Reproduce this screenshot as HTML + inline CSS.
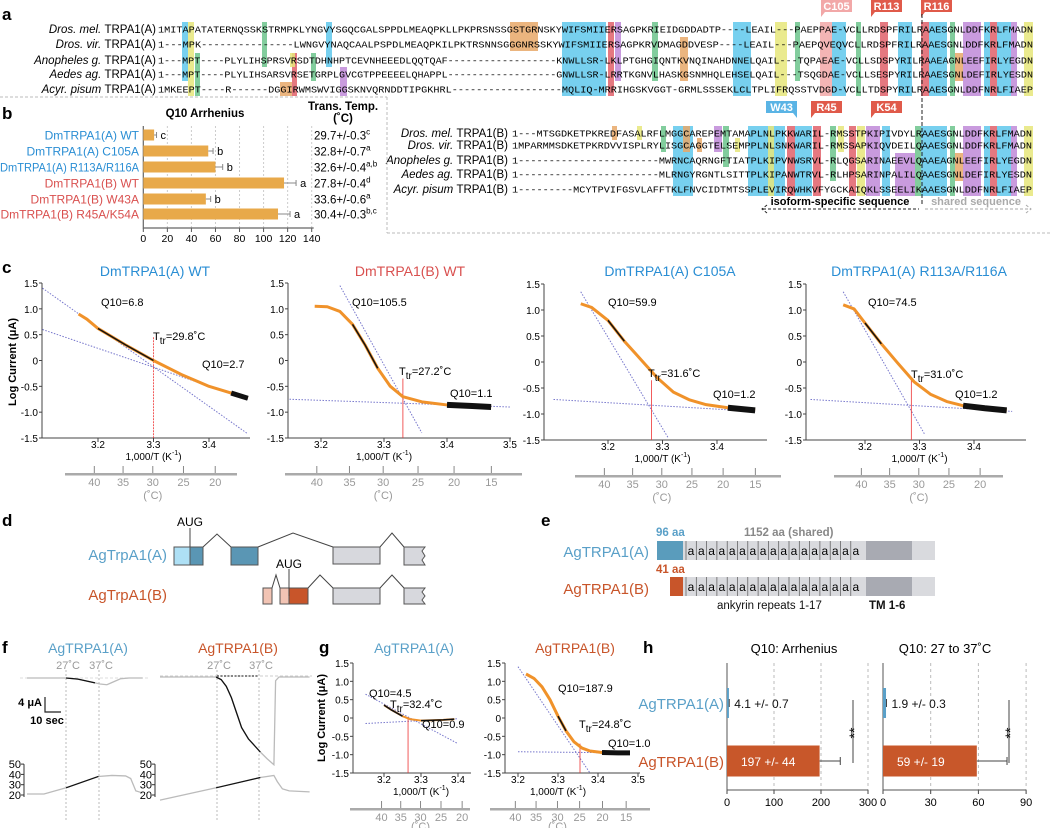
<!DOCTYPE html>
<html><head><meta charset="utf-8"><style>
html,body{margin:0;padding:0;background:#fff;}
svg{display:block;font-family:"Liberation Sans",sans-serif;}
.mono{font-family:"Liberation Mono",monospace;}
</style></head><body>
<svg id="fig" width="1050" height="828" viewBox="0 0 1050 828" xmlns="http://www.w3.org/2000/svg">
<g id="pa"></g>
<g id="pb"></g>
<g id="pc"></g>
<g id="pd"></g>
<g id="pe"></g>
<g id="pf"></g>
<g id="pg"></g>
<g id="ph"></g>
<g font-weight="bold" font-size="17">
<text x="2" y="20">a</text>
<text x="2" y="119">b</text>
<text x="2" y="273">c</text>
<text x="2" y="526">d</text>
<text x="541" y="526">e</text>
<text x="2" y="653">f</text>
<text x="319" y="653">g</text>
<text x="643" y="653">h</text>
</g>
<g stroke="#bbb" stroke-dasharray="3,2" fill="none">
<line x1="0" y1="97" x2="387" y2="97"/>
<line x1="387" y1="97" x2="387" y2="233"/>
<line x1="387" y1="233" x2="1050" y2="233"/>
</g>
</svg>
<script>
const NS="http://www.w3.org/2000/svg";
function el(tag,attrs,parent){const e=document.createElementNS(NS,tag);for(const k in attrs)e.setAttribute(k,attrs[k]);parent.appendChild(e);return e;}
function tx(x,y,s,attrs,parent){const e=el('text',Object.assign({x:x,y:y},attrs||{}),parent);e.textContent=s;return e;}
const pa=document.getElementById('pa'),pb=document.getElementById('pb'),pc=document.getElementById('pc'),pd=document.getElementById('pd'),pe=document.getElementById('pe'),pf=document.getElementById('pf'),pg=document.getElementById('pg'),ph=document.getElementById('ph');

/* ---------- DATA ---------- */
const aNames=["Dros. mel.","Dros. vir.","Anopheles g.","Aedes ag.","Acyr. pisum"];
const aSeqA=["1MITAPATATERNQSSKSTRMPKLYNGVYSGQCGALSPPDLMEAQPKLLPKPRSNSSGSTGRNSKYWIFSMIIERSAGPKRIEIDGDDADTP----LEAIL---PAEPPAE-VCLLRDSPFRILRAAESGNLDDFKRLFMADN",
"1---MPK---------------LWNGVYNAQCAALPSPDLMEAQPKILPKTRSNNSGGGNRSSKYWIFSMIIERSAGPKRVDMAGDDVESP----LEAIL---PAEPQVEQVCLLRDSPFRILRAAESGNLDDFKRLFMADN",
"1---MPT----PLYLIHSPRSVRSDTDHNHPTCEVNHEEEDLQQTQAF------------------KNWLLSR-LKLPTGHGIQNTKVNQINAHDNNELQAIL---TQPAEAE-VCLLSDSPYRILRAAEAGNLEEFIRLYEGDN",
"1---MPT----PLYLIHSARSVRSETGRPLGVCGTPPEEEELQHAPPL------------------GNWLLSR-LRRTKGNVLHASKGSNMHQLEHSELQAIL---TSQGDAE-VCLLSESPYRILRAAESGNLDEFIRLYESDN",
"1MKEEPT----R------DGGIRWMSWVIGGSKNVQRNDDTIPGKHRL------------------MQLIQ-MRRIHGSKVGGT-GRMLSSSEKLCLTPLIFRQSSTVDGD-VCLLTDSPYRILRAAESGNLDDFNRLFIAEP"];
const aSeqB=["1---MTSGDKETPKREDFASALRFLMGGCAREPEMTAMAPLNLPKKWARIL-RMSSTPKIPIVDYLRAAESGNLDDFKRLFMADN",
"1MPARMMSDKETPKRDVVISPLRYLISGCAGGTELSEMPPLNLSNKWARIL-RMSSAPKIQVDEILQAAESGNLDDFKRLFMADN",
"1-----------------------MWRNCAQRNGFTIATPLKIPVNWSRVL-RLQGSARINAEEVLQAAEAGNLEEFIRLYEGDN",
"1-----------------------MLRNGYRGNTLSITTPLKIPANWTRVL-RLHPSARINPALILQAAESGNLDEFIRLYESDN",
"1---------MCYTPVIFGSVLAFFTKLFNVCIDTMTSSPLEVIRQWHKVFYGCKAIQKLSSEELIKAAESGNLDDFNRLFIAEP"];

const bCategories=["DmTRPA1(A) WT","DmTRPA1(A) C105A","DmTRPA1(A) R113A/R116A","DmTRPA1(B) WT","DmTRPA1(B) W43A","DmTRPA1(B) R45A/K54A"];
const bValues=[9,54,60,117,52,112];
const bErrors=[2,4,6,10,4,10];
const bLetters=["c","b","b","a","b","a"];
const bTemps=["29.7+/-0.3","32.8+/-0.7","32.6+/-0.4","27.8+/-0.4","33.6+/-0.6","30.4+/-0.3"];
const bTempSup=["c","a","a,b","d","a","b,c"];
const bTicks=[0,20,40,60,80,100,120,140];

const c1X=[3.165,3.18,3.2,3.25,3.3,3.35,3.4,3.44,3.47];
const c1Y=[0.9,0.8,0.62,0.3,0.0,-0.27,-0.5,-0.63,-0.73];
const c2X=[3.19,3.21,3.23,3.25,3.27,3.29,3.31,3.33,3.36,3.4,3.44,3.47];
const c2Y=[1.05,1.04,0.95,0.7,0.3,-0.15,-0.5,-0.7,-0.8,-0.86,-0.88,-0.9];
const c3X=[3.15,3.17,3.2,3.23,3.26,3.29,3.32,3.35,3.38,3.42,3.47];
const c3Y=[1.12,1.05,0.8,0.4,0.05,-0.3,-0.58,-0.73,-0.82,-0.88,-0.93];
const c4X=[3.16,3.18,3.2,3.23,3.26,3.29,3.32,3.35,3.38,3.42,3.46];
const c4Y=[1.1,1.02,0.75,0.35,-0.02,-0.38,-0.62,-0.76,-0.84,-0.89,-0.93];
const gAX=[3.2,3.22,3.25,3.27,3.3,3.33,3.36,3.39];
const gAY=[0.35,0.22,0.05,-0.03,-0.07,-0.06,-0.05,-0.03];
const gBX=[3.22,3.24,3.26,3.28,3.3,3.32,3.34,3.36,3.38,3.41,3.45,3.48];
const gBY=[1.2,1.08,0.85,0.5,0.05,-0.35,-0.65,-0.82,-0.9,-0.94,-0.95,-0.95];
const cTicksY=[1.5,1.0,0.5,0,-0.5,-1.0,-1.5];

const fATime=[0,10,23,30,35,40,43,47,50,55,60,68];
const fACurrent=[0,0,0,-0.3,-0.8,-1.3,-1.6,-1.8,-1.2,-0.2,0,0];
const fATempTime=[0,10,23,42,50,58,61,64,68];
const fATemp=[21,21,27,38,39,38.5,36,24,22];
const fBTime=[0,33,36,39,42,45,48,52,56,59,63,66,67,68,70,88];
const fBCurrent=[0,0,-0.7,-2.5,-5.5,-9.5,-13.5,-16.5,-18.5,-20,-21.8,-23,-23.4,-1,0,0];
const fBTempTime=[0,33,59,67,69,72,76,88];
const fBTemp=[15,27,37,39,33,26,24,23];

const hCategories=["AgTRPA1(A)","AgTRPA1(B)"];
const hArrVals=[4.1,197];
const hArrErr=[0.7,44];
const hArrTicks=[0,100,200,300];
const hRangeVals=[1.9,59];
const hRangeErr=[0.3,19];
const hRangeTicks=[0,30,60,90];

/* ---------- PANEL A ---------- */
const CY="#5fc8ec",YE="#e6e67a",GR="#6cc48c",OR="#e8a868",RD="#e0606a",PU="#c08ad8",PK="#f2a8a8";
const colsA=[[182,6,CY,0,3],[188,6,YE,0,4],[195,5,GR,2,4],[262,5,GR,0,2],[292,5,RD,2,4],[280,12,OR,4,4],[311,5,GR,2,3],[326,6,CY,0,2],[290,5,YE,2,2],[340,7,PU,3,4],[510,28,OR,0,1],[562,44,CY,0,4],[608,6,RD,0,4],[615,6,PU,0,3],[652,6,GR,0,3],[680,8,OR,1,3],[733,18,CY,0,4],[775,12,YE,0,4],[795,5,GR,0,3],[820,12,PK,0,4],[832,14,CY,0,4],[856,5,GR,0,4],[880,8,RD,0,4],[898,14,CY,0,4],[921,8,RD,0,4],[929,18,CY,0,4],[950,5,GR,0,4],[955,8,OR,2,3],[963,18,PU,0,4],[984,6,CY,0,4],[990,7,RD,0,4],[997,14,CY,0,4],[1011,6,PU,0,4],[1024,9,YE,0,4]];
const colsB=[[612,5,OR,0,0],[637,5,YE,0,0],[661,5,GR,0,1],[673,20,CY,0,4],[683,7,OR,0,1],[697,5,OR,1,1],[714,8,PU,0,1],[723,6,GR,0,2],[735,5,YE,1,1],[748,30,CY,0,4],[768,6,YE,0,4],[778,7,CY,0,4],[787,8,RD,0,4],[795,17,CY,0,4],[813,8,RD,0,4],[830,6,GR,0,3],[838,6,YE,0,1],[849,7,RD,0,4],[857,8,YE,0,4],[866,14,PU,0,4],[882,8,CY,0,4],[895,20,PU,2,4],[915,6,GR,0,4],[921,8,CY,0,4],[929,18,CY,0,4],[950,5,GR,0,4],[955,8,OR,2,3],[963,18,PU,0,4],[984,6,CY,0,4],[990,7,RD,0,4],[997,14,CY,0,4],[1011,6,PU,0,4],[1024,9,YE,0,4]];
const rowYA=[29,44,60,74,89],rowYB=[133,145,160,174,189];
colsA.forEach(c=>{const r=el('rect',{x:c[0],y:rowYA[c[3]]-7,width:c[1],height:rowYA[c[4]]-rowYA[c[3]]+14,fill:c[2],opacity:0.85},pa);

});
colsB.forEach(c=>{const r=el('rect',{x:c[0],y:rowYB[c[3]]-7,width:c[1],height:rowYB[c[4]]-rowYB[c[3]]+14,fill:c[2],opacity:0.85},pa);

});
aNames.forEach((n,i)=>{
 const t=tx(156,rowYA[i]+4,'',{'text-anchor':'end','font-size':'11.5'},pa);
 
 
 const s1=el('tspan',{'font-style':'italic'},t);s1.textContent=n+' ';
 const s2=el('tspan',{},t);s2.textContent='TRPA1(A)';
 const q=tx(158,rowYA[i]+3.5,aSeqA[i],{'font-size':'9',textLength:875,lengthAdjust:'spacingAndGlyphs',class:'mono'},pa);
 
 
 const t2=tx(508,rowYB[i]+4,'',{'text-anchor':'end','font-size':'11.5'},pa);
 
 
 const u1=el('tspan',{'font-style':'italic'},t2);u1.textContent=n+' ';
 const u2=el('tspan',{},t2);u2.textContent='TRPA1(B)';
 const q2=tx(512,rowYB[i]+3.5,aSeqB[i],{'font-size':'9',textLength:520,lengthAdjust:'spacingAndGlyphs',class:'mono'},pa);
 
 
});
const tags=[["C105",821,PK,1],["R113",871,"#e05a4a",1],["R116",921,"#e05a4a",1],["W43",766,"#5ab4e5",0],["R45",811,"#e05a4a",1],["K54",871,"#e05a4a",1]];
tags.forEach((t,i)=>{const y0=i<3?0:101;
 const r=el('path',{d:t[3]?`M${t[1]} ${y0} h31 v12 h-27 l-4 5 z`:`M${t[1]} ${y0} h31 v17 l-4 -5 h-27 z`,fill:t[2]},pa);
 
 
 const l=tx(t[1]+15.5,y0+10,t[0],{'text-anchor':'middle','font-size':'11',fill:'#fff','font-weight':'bold'},pa);
 
 });
const dl=el('line',{x1:922,y1:14,x2:922,y2:205,stroke:'#222','stroke-dasharray':'4,2'},pa);


const iso=tx(840,205,'isoform-specific sequence',{'text-anchor':'middle','font-size':'11','font-weight':'bold'},pa);


const sh=tx(976,205,'shared sequence',{'text-anchor':'middle','font-size':'11','font-weight':'bold',fill:'#aaa'},pa);


const ar1=el('path',{d:'M763 209 H919 M767 205 L762 209 L767 213',stroke:'#222',fill:'none','stroke-dasharray':'3,2'},pa);


const ar2=el('path',{d:'M925 209 H1031 M1026 205 L1031 209 L1026 213',stroke:'#aaa',fill:'none','stroke-dasharray':'3,2'},pa);



/* ---------- PANEL B ---------- */
const bx=v=>143.3+v*(311.7-143.3)/140;
const bRowY=[135,151,167,183,199,214];
bTicks.forEach(t=>{
 if(t>0){const g=el('line',{x1:bx(t),y1:126,x2:bx(t),y2:228,stroke:'#ccc','stroke-dasharray':'2,2'},pb);
 
 }
 const k=el('line',{x1:bx(t),y1:228,x2:bx(t),y2:232,stroke:'#555'},pb);
 
 
 const l=tx(bx(t),242,String(t),{'text-anchor':'middle','font-size':'10.5'},pb);
 
 });
const bax=el('path',{d:`M143.3 126 V228 H${bx(140)+2}`,stroke:'#666',fill:'none','stroke-width':1.2},pb);


bCategories.forEach((c,i)=>{const y=bRowY[i];
 const r=el('rect',{x:143.3,y:y-5.5,width:bx(bValues[i])-143.3,height:11,fill:'#e8a94a'},pb);
 
 
 const e=el('path',{d:`M${bx(bValues[i])} ${y} H${bx(bValues[i]+bErrors[i])} M${bx(bValues[i]+bErrors[i])} ${y-3} V${y+3}`,stroke:'#888'},pb);
 
 
 const l=tx(139,y+4.5,c,{'text-anchor':'end','font-size':'12',fill:i<3?'#2a8ed4':'#d9504f'},pb);
 
 
 if(c.length>20){l.setAttribute('textLength',i<3?139:134);l.setAttribute('lengthAdjust','spacingAndGlyphs');}
 const lt=tx(bx(bValues[i]+bErrors[i])+4,y+4,bLetters[i],{'font-size':'11'},pb);
 
 
 const tt=tx(314,y+4.5,bTemps[i],{'font-size':'11.5'},pb);
 
 
 const sp=el('tspan',{'font-size':'8',dy:'-5'},tt);sp.textContent=bTempSup[i];});
const bt=tx(205,117,'Q10 Arrhenius',{'text-anchor':'middle','font-size':'11.5','font-weight':'bold'},pb);


const bt2=tx(343,110,'Trans. Temp.',{'text-anchor':'middle','font-size':'11.5','font-weight':'bold'},pb);


const bt3=tx(343,122,'(˚C)',{'text-anchor':'middle','font-size':'11.5','font-weight':'bold'},pb);



/* ---------- ARRHENIUS PLOT HELPER ---------- */
function arrPlot(g,c){
 const X=v=>c.x32+(v-3.2)*c.px01*100, yz=(c.yTop+c.yBot)/2, Y=v=>yz-v*(c.yBot-c.yTop)/3;
 cTicksY.forEach(t=>{const k=el('line',{x1:c.ax-3,y1:Y(t),x2:c.ax,y2:Y(t),stroke:'#444'},g);
  
  
  const l=tx(c.ax-4,Y(t)+4,t===0?'0':t.toFixed(1),{'text-anchor':'end','font-size':c.fs},g);
  
  });
 const a=el('path',{d:`M${c.ax} ${c.yTop} V${c.yBot} H${c.axEnd}`,stroke:'#444',fill:'none'},g);
 
 
 c.xt.forEach(t=>{const k=el('line',{x1:X(t),y1:c.yBot,x2:X(t),y2:c.yBot+4,stroke:'#444'},g);
  
  
  const l=tx(X(t),c.yBot+c.tly,t.toFixed(1),{'text-anchor':'middle','font-size':c.fs},g);
  
  });
 const xl=tx(X(3.3),c.yBot+c.tly+12,'1,000/T (K',{'text-anchor':'middle','font-size':c.fs},g);
 
 
 const xs=el('tspan',{'font-size':'7',dy:'-5'},xl);xs.textContent='-1';
 const xs2=el('tspan',{dy:'5'},xl);xs2.textContent=')';
 const cy=c.yBot+c.tly+25;
 const XC=t=>X(1000/(t+273.15));
 const cb=el('rect',{x:c.cb[0],y:cy,width:c.cb[1]-c.cb[0],height:2.5,fill:'#aaa'},g);
 
 
 c.ct.forEach(t=>{const k=el('line',{x1:XC(t),y1:cy-7,x2:XC(t),y2:cy,stroke:'#888'},g);
  
  
  const l=tx(XC(t),cy+13,String(t),{'text-anchor':'middle','font-size':c.fs+1,fill:'#999'},g);
  
  });
 const cu=tx(XC(30),cy+c.cuy,'(˚C)',{'text-anchor':'middle','font-size':c.fs+1,fill:'#999'},g);
 
 
 c.lines.forEach(L=>{const l=el('line',{x1:X(L[0]),y1:Y(L[1]),x2:X(L[2]),y2:Y(L[3]),stroke:'#7777cc','stroke-dasharray':'1.5,1.5','stroke-width':1},g);
  
  });
 const rl=el('line',{x1:X(c.ttr),y1:Y(c.ttrTop),x2:X(c.ttr),y2:c.yBot,stroke:'#e33','stroke-dasharray':c.rdash||'none','stroke-width':0.8},g);
 
 
 const pts=c.xs.map((v,i)=>X(v)+','+Y(c.ys[i])).join(' ');
 const cv=el('polyline',{points:pts,fill:'none',stroke:'#f0922a','stroke-width':c.sw||3,'stroke-linejoin':'round'},g);
 
 
 c.black.forEach(b=>{const pp=[];for(let i=0;i<c.xs.length;i++){if(c.xs[i]>=b[0]-1e-9&&c.xs[i]<=b[1]+1e-9)pp.push(X(c.xs[i])+','+Y(c.ys[i]));}
  const bl=el('polyline',{points:pp.join(' '),fill:'none',stroke:'#111','stroke-width':b[2]},g);
  
  });
 c.labels.forEach(L=>{const t=tx(L[0],L[1],'',{'font-size':c.fs+1},g);
  
  
  if(L[2].startsWith('T')){const a1=el('tspan',{},t);a1.textContent='T';const a2=el('tspan',{dy:'4','font-size':c.fs},t);a2.textContent='tr';const a3=el('tspan',{dy:'-4'},t);a3.textContent=L[2].slice(3);}
  else t.textContent=L[2];});
 const tt=tx(c.title[0],c.title[1],c.title[2],{'text-anchor':'middle','font-size':'14',fill:c.title[3]},g);
 
 
}
const BL='#2a8ed4',RE='#d9504f',AgA='#5aa0c8',AgB='#c8552a';
arrPlot(pc,{ax:42,x32:98,px01:5.55,yTop:283,yBot:438,axEnd:250,xt:[3.2,3.3,3.4],tly:10,fs:10,cb:[65,237],ct:[40,35,30,25,20],cuy:26,
 lines:[[3.1,1.4,3.47,-1.42],[3.1,0.6,3.47,-0.75]],ttr:3.3,ttrTop:0.45,rdash:'2,1',xs:c1X,ys:c1Y,black:[[3.2,3.3,1.5],[3.44,3.47,5]],
 labels:[[101,306,'Q10=6.8'],[153,340,'Ttr=29.8˚C'],[202,368,'Q10=2.7']],title:[155,276,'DmTRPA1(A) WT',BL]});
arrPlot(pc,{ax:288,x32:321,px01:6.3,yTop:283,yBot:438,axEnd:511,xt:[3.2,3.3,3.4,3.5],tly:10,fs:10,cb:[285,522],ct:[40,35,30,25,20,15],cuy:26,
 lines:[[3.23,1.45,3.36,-1.4],[3.15,-0.75,3.5,-0.9]],ttr:3.33,ttrTop:-0.35,xs:c2X,ys:c2Y,black:[[3.25,3.29,1.5],[3.4,3.47,6]],
 labels:[[352,306,'Q10=105.5'],[399,375,'Ttr=27.2˚C'],[450,397,'Q10=1.1']],title:[410,276,'DmTRPA1(B) WT',RE]});
arrPlot(pc,{ax:544,x32:608,px01:5.45,yTop:284,yBot:440,axEnd:767,xt:[3.2,3.3,3.4],tly:10,fs:10,cb:[575,781],ct:[40,35,30,25,20,15],cuy:26,
 lines:[[3.15,1.35,3.31,-1.45],[3.1,-0.72,3.47,-0.95]],ttr:3.28,ttrTop:-0.35,xs:c3X,ys:c3Y,black:[[3.2,3.23,1.5],[3.39,3.47,6]],
 labels:[[608,306,'Q10=59.9'],[648,377,'Ttr=31.6˚C'],[713,398,'Q10=1.2']],title:[670,276,'DmTRPA1(A) C105A',BL]});
arrPlot(pc,{ax:806,x32:865,px01:5.45,yTop:284,yBot:440,axEnd:1026,xt:[3.2,3.3,3.4],tly:10,fs:10,cb:[834,1003],ct:[40,35,30,25,20],cuy:26,
 lines:[[3.16,1.35,3.31,-1.4],[3.1,-0.72,3.47,-0.95]],ttr:3.285,ttrTop:-0.35,xs:c4X,ys:c4Y,black:[[3.2,3.23,1.5],[3.38,3.46,6]],
 labels:[[868,306,'Q10=74.5'],[911,378,'Ttr=31.0˚C'],[955,398,'Q10=1.2']],title:[919,276,'DmTRPA1(A) R113A/R116A',BL]});
const ylc=tx(0,0,'Log Current (μA)',{'font-size':'11','font-weight':'bold',transform:'translate(16,362) rotate(-90)','text-anchor':'middle'},pc);



arrPlot(pg,{ax:353,x32:384,px01:3.7,yTop:663,yBot:773,axEnd:471,xt:[3.2,3.3,3.4],tly:10,fs:10,cb:[350,470],ct:[40,35,30,25,20],cuy:22,
 lines:[[3.15,0.65,3.4,-0.7],[3.15,-0.15,3.4,-0.02]],ttr:3.265,ttrTop:0.02,xs:gAX,ys:gAY,black:[[3.2,3.25,1.5],[3.28,3.39,1.5]],sw:2,
 labels:[[369,697,'Q10=4.5'],[390,708,'Ttr=32.4˚C'],[422,728,'Q10=0.9']],title:[414,653,'AgTRPA1(A)',AgA]});
arrPlot(pg,{ax:505,x32:518,px01:4.0,yTop:663,yBot:773,axEnd:640,xt:[3.2,3.3,3.4,3.5],tly:10,fs:10,cb:[490,650],ct:[40,35,30,25,20,15],cuy:22,
 lines:[[3.2,1.4,3.38,-1.5],[3.2,-0.92,3.45,-0.95]],ttr:3.355,ttrTop:-0.7,xs:gBX,ys:gBY,black:[[3.3,3.32,1.5],[3.41,3.48,5]],
 labels:[[558,692,'Q10=187.9'],[579,728,'Ttr=24.8˚C'],[608,747,'Q10=1.0']],title:[575,653,'AgTRPA1(B)',AgB]});
const ylg=tx(0,0,'Log Current (μA)',{'font-size':'11','font-weight':'bold',transform:'translate(325,718) rotate(-90)','text-anchor':'middle'},pg);



/* ---------- PANEL D ---------- */
function box(g,x,y,w,h,fill,name){const r=el('rect',{x:x,y:y,width:w,height:h,fill:fill,stroke:'#555','stroke-width':1},g);
 
 return r;}
const dl1=tx(167,560,'AgTrpA1(A)',{'text-anchor':'end','font-size':'15',fill:AgA},pd);


box(pd,174,547,16,18,'#aee0f5','exon-a1-utr');box(pd,190,547,13,18,'#5a96b4','exon-a1-coding');
box(pd,231,547,27,18,'#5a96b4','exon-a2');box(pd,333,547,47,17,'#d7d8dd','exon-shared-1');
const fa=el('path',{d:'M404 547 H425 l-3 4 l3 5 l-3 4 l3 5 H404 Z',fill:'#d7d8dd',stroke:'#555'},pd);


const ia=el('path',{d:'M203 547 L217 534 L231 547 M258 547 L293 533 L333 547 M380 547 L392 533 L404 547 M190 528 V547',stroke:'#444',fill:'none'},pd);


const aug1=tx(190,526,'AUG',{'text-anchor':'middle','font-size':'12'},pd);


const dl2=tx(167,600,'AgTrpA1(B)',{'text-anchor':'end','font-size':'15',fill:AgB},pd);


box(pd,263,588,9,16,'#f2c4b4','exon-b0');box(pd,280,588,9,16,'#f2c4b4','exon-b1-utr');box(pd,289,588,19,16,'#c8552a','exon-b1-coding');
box(pd,333,588,47,16,'#d7d8dd','exon-shared-1b');
const fb=el('path',{d:'M404 588 H425 l-3 4 l3 4 l-3 4 l3 4 H404 Z',fill:'#d7d8dd',stroke:'#555'},pd);


const ib=el('path',{d:'M272 588 L276 575 L280 588 M308 588 L320 575 L333 588 M380 588 L392 575 L404 588 M289 569 V596',stroke:'#444',fill:'none'},pd);


const aug2=tx(289,568,'AUG',{'text-anchor':'middle','font-size':'12'},pd);



/* ---------- PANEL E ---------- */
function protein(y,color,x0){
 box(pe,683,y,252,19,'#d9dade','protein-body').setAttribute('stroke','none');
 box(pe,866,y,46,19,'#a8aab2','tm-domain').setAttribute('stroke','none');
 box(pe,x0,y,683-x0,19,color,'isoform-specific-domain').setAttribute('stroke','none');
 for(let i=0;i<17;i++){const l=el('line',{x1:686+i*10.3,y1:y,x2:686+i*10.3,y2:y+19,stroke:'#555','stroke-width':0.7},pe);
  
  
  const a=tx(691+i*10.3,y+14,'a',{'text-anchor':'middle','font-size':'12'},pe);
  
  }
}
protein(541,'#5a9cbc',657);protein(577,'#c8552a',670);
[[656,536,'96 aa',AgA,'start'],[744,536,'1152 aa (shared)','#888','start'],[656,573,'41 aa',AgB,'start'],[649,557,'AgTRPA1(A)',AgA,'end'],[649,594,'AgTRPA1(B)',AgB,'end'],[717,609,'ankyrin repeats 1-17','#111','start'],[869,609,'TM 1-6','#111','start']].forEach(t=>{
 const e=tx(t[0],t[1],t[2],{'font-size':t[2].startsWith('Ag')?'15':'11.5',fill:t[3],'text-anchor':t[4],'font-weight':t[2].length<20&&!t[2].startsWith('Ag')?'bold':'normal'},pe);
 
 });

/* ---------- PANEL F ---------- */
function trace(x0,yBase,tArr,iArr,blk,name){
 const X=t=>x0+t*1.7,Y=v=>yBase-v*3.75;
 const p=el('polyline',{points:tArr.map((t,i)=>X(t)+','+Y(iArr[i])).join(' '),fill:'none',stroke:'#bbb','stroke-width':1.3},pf);
 
 
 const pp=[];tArr.forEach((t,i)=>{if(t>=blk[0]&&t<=blk[1])pp.push(X(t)+','+Y(iArr[i]));});
 const b=el('polyline',{points:pp.join(' '),fill:'none',stroke:'#111','stroke-width':1.3},pf);
 
 }
function ttrace(x0,axX,tArr,TArr,blk,name){
 const X=t=>x0+t*1.7,Y=v=>795-(v-20)*1.03;
 const p=el('polyline',{points:tArr.map((t,i)=>X(t)+','+Y(TArr[i])).join(' '),fill:'none',stroke:'#bbb','stroke-width':1.3},pf);
 
 
 const pp=[];tArr.forEach((t,i)=>{if(t>=blk[0]&&t<=blk[1])pp.push(X(t)+','+Y(TArr[i]));});
 const b=el('polyline',{points:pp.join(' '),fill:'none',stroke:'#111','stroke-width':1.2},pf);
 
 
 const ax=el('line',{x1:axX,y1:Y(50),x2:axX,y2:Y(18),stroke:'#333'},pf);
 
 
 [50,40,30,20].forEach(v=>{const k=el('line',{x1:axX-3,y1:Y(v),x2:axX,y2:Y(v),stroke:'#333'},pf);
  
  
  const l=tx(axX-3,Y(v)+4,String(v),{'text-anchor':'end','font-size':'11'},pf);
  
  });}
[[66,99,88,'AgTRPA1(A)',AgA],[217,259,238,'AgTRPA1(B)',AgB]].forEach((p,j)=>{
 [p[0],p[1]].forEach((x,i)=>{const l=el('line',{x1:x,y1:670,x2:x,y2:820,stroke:'#bbb','stroke-dasharray':'2,2'},pf);
  
  
  const t=tx(x+2,669,i?'37˚C':'27˚C',{'text-anchor':'middle','font-size':'11',fill:'#999'},pf);
  
  });
 const t=tx(p[2],653,p[3],{'text-anchor':'middle','font-size':'14',fill:p[4]},pf);
 
 });
const bl1=el('line',{x1:20,y1:678,x2:150,y2:678,stroke:'#ddd','stroke-dasharray':'3,2'},pf);


const bl2=el('line',{x1:160,y1:676,x2:312,y2:676,stroke:'#ccc','stroke-dasharray':'3,2'},pf);


const bl3=el('line',{x1:217,y1:676,x2:259,y2:676,stroke:'#111','stroke-dasharray':'2,1.5'},pf);


trace(27,678,fATime,fACurrent,[23,42],'current-trace-a');
trace(160,677,fBTime,fBCurrent,[33,59],'current-trace-b');
ttrace(27,24,fATempTime,fATemp,[23,42],'temp-trace-a');
ttrace(160,155,fBTempTime,fBTemp,[33,59],'temp-trace-b');
const sb=el('path',{d:'M45 697 V712 H61',stroke:'#222',fill:'none','stroke-width':1.2},pf);


const sb1=tx(42,706,'4 μA',{'text-anchor':'end','font-size':'11','font-weight':'bold'},pf);


const sb2=tx(47,724,'10 sec',{'text-anchor':'middle','font-size':'11','font-weight':'bold'},pf);



/* ---------- PANEL H ---------- */
function hChart(x0,scale,vals,errs,ticks,brX,title,tcx,labelsLeft,txts){
 const X=v=>x0+v*scale, rowY=[703,761];
 ticks.forEach(t=>{if(t>0){const g=el('line',{x1:X(t),y1:663,x2:X(t),y2:790,stroke:'#bbb','stroke-dasharray':'3,3'},ph);
  
  }
  const l=tx(X(t),806,String(t),{'text-anchor':'middle','font-size':'11'},ph);
  
  
  const k=el('line',{x1:X(t),y1:790,x2:X(t),y2:794,stroke:'#444'},ph);
  
  });
 const ax=el('path',{d:`M${x0} 663 V790 H${X(ticks[ticks.length-1])}`,stroke:'#555',fill:'none'},ph);
 
 
 vals.forEach((v,i)=>{const h=i?31:30;
  const r=el('rect',{x:x0,y:rowY[i]-h/2,width:Math.max(X(v)-x0,1.5),height:h,fill:i?'#c8572a':'#5aa0c8'},ph);
  
  
  const e=el('path',{d:`M${X(v)} ${rowY[i]} H${X(v+errs[i])} M${X(v+errs[i])} ${rowY[i]-4} V${rowY[i]+4}`,stroke:'#444'},ph);
  
  
  const t=tx(i?x0+14:X(v+errs[i])+5,rowY[i]+5,txts[i],{'font-size':'12',fill:i?'#fff':'#111'},ph);
  
  
  if(labelsLeft){const c=tx(x0-3,rowY[i]+6,hCategories[i],{'text-anchor':'end','font-size':'15',fill:i?AgB:AgA},ph);
   
   }});
 const br=el('line',{x1:brX,y1:700,x2:brX,y2:763,stroke:'#444'},ph);
 
 
 const st=tx(0,0,'**',{'font-size':'14','text-anchor':'middle',transform:`translate(${brX+6},733) rotate(-90)`},ph);
 
 
 const tt=tx(tcx,653,title,{'text-anchor':'middle','font-size':'13'},ph);
 
 }
hChart(727,0.47,hArrVals,hArrErr,hArrTicks,853,'Q10: Arrhenius',794,true,[hArrVals[0]+' +/- '+hArrErr[0],hArrVals[1]+' +/- '+hArrErr[1]]);
hChart(883,1.59,hRangeVals,hRangeErr,hRangeTicks,1009,'Q10: 27 to 37˚C',945,false,[hRangeVals[0]+' +/- '+hRangeErr[0],hRangeVals[1]+' +/- '+hRangeErr[1]]);
</script>
</body></html>
